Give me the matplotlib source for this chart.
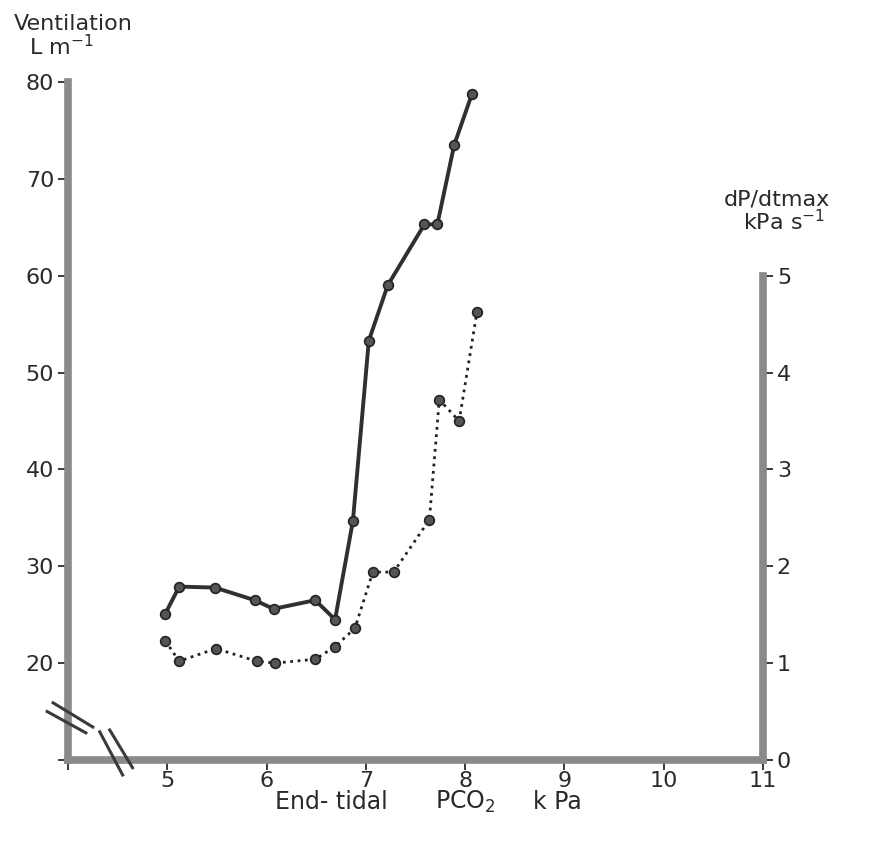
import matplotlib
matplotlib.use('Agg')
import matplotlib.pyplot as plt

# ventilation (L/min) vs end-tidal PCO2
pco2_vent = [4.98, 5.12, 5.48, 5.88, 6.07, 6.49, 6.69, 6.87, 7.03, 7.22, 7.59, 7.72, 7.89, 8.07]
ventilation = [25.1, 27.9, 27.8, 26.5, 25.6, 26.5, 24.5, 34.7, 53.3, 59.0, 65.3, 65.3, 73.5, 78.8]

# dP/dtmax (kPa/s) vs end-tidal PCO2
pco2_dpdt = [4.98, 5.12, 5.49, 5.90, 6.08, 6.49, 6.69, 6.89, 7.07, 7.28, 7.64, 7.74, 7.94, 8.12]
dpdt = [1.23, 1.02, 1.15, 1.02, 1.00, 1.04, 1.17, 1.36, 1.94, 1.94, 2.48, 3.72, 3.50, 4.63]

x_ticks = [5, 6, 7, 8, 9, 10, 11]
vent_ticks = [20, 30, 40, 50, 60, 70, 80]
dpdt_ticks = [0, 1, 2, 3, 4, 5]

plt.rcParams['font.family'] = ['DejaVu Sans']
ink = '#2a2a2a'
spine_grey = '#8a8a8a'

fig = plt.figure(figsize=(8.81, 8.43), dpi=100)
ax = fig.add_axes([0.0772, 0.0985, 0.7888, 0.8042])
ax2 = ax.twinx()

ax.set_xlim(4, 11)
ax.set_ylim(10, 80)
ax2.set_ylim(0, 7)

# axes drawn as thick grey bars
for s in ['top', 'right']:
    ax.spines[s].set_visible(False)
for s in ['top', 'left', 'bottom']:
    ax2.spines[s].set_visible(False)
for sp in [ax.spines['left'], ax.spines['bottom'], ax2.spines['right']]:
    sp.set_linewidth(5.5)
    sp.set_color(spine_grey)
    sp.set_capstyle('projecting')
ax.spines['left'].set_bounds(10, 80)
ax.spines['bottom'].set_bounds(4, 11)
ax2.spines['right'].set_bounds(0, 5)

ax.set_xticks([4] + x_ticks)
ax.set_xticklabels([''] + [str(t) for t in x_ticks])
ax.set_yticks([10] + vent_ticks)
ax.set_yticklabels([''] + [str(t) for t in vent_ticks])
ax2.set_yticks(dpdt_ticks)
ax2.set_yticklabels([str(t) for t in dpdt_ticks])
for a in [ax, ax2]:
    a.tick_params(direction='out', length=7, width=1.3, color=ink,
                  labelsize=16, labelcolor=ink, pad=3)
ax.tick_params(axis='x', pad=1)

ax.plot(pco2_vent, ventilation, '-', color='#303030', lw=2.8,
        marker='o', ms=7, mfc='#555555', mec='#222222', mew=1.2, zorder=3)
ax2.plot(pco2_dpdt, dpdt, ':', color='#222222', lw=2.0,
         marker='o', ms=7, mfc='#555555', mec='#222222', mew=1.2, zorder=3)

# axis break marks
breaks = [
    ([3.85, 4.25], [15.9, 13.4]),
    ([3.79, 4.18], [15.0, 12.8]),
    ([4.32, 4.55], [12.9, 8.45]),
    ([4.42, 4.65], [13.1, 9.2]),
]
for bx, by in breaks:
    ax.plot(bx, by, color='#3a3a3a', lw=2.2, clip_on=False, zorder=5)

fig.text(0.016, 0.964, 'Ventilation', fontsize=16, color=ink, va='baseline')
fig.text(0.033, 0.935, 'L m$^{-1}$', fontsize=16, color=ink, va='baseline')
fig.text(0.942, 0.756, 'dP/dtmax', fontsize=16, color=ink, va='baseline', ha='right')
fig.text(0.937, 0.727, 'kPa s$^{-1}$', fontsize=16, color=ink, va='baseline', ha='right')
fig.text(0.312, 0.040, 'End- tidal', fontsize=17, color=ink, va='baseline')
fig.text(0.494, 0.040, 'PCO$_2$', fontsize=17, color=ink, va='baseline')
fig.text(0.605, 0.040, 'k Pa', fontsize=17, color=ink, va='baseline')

fig.savefig('out.png', dpi=100)
